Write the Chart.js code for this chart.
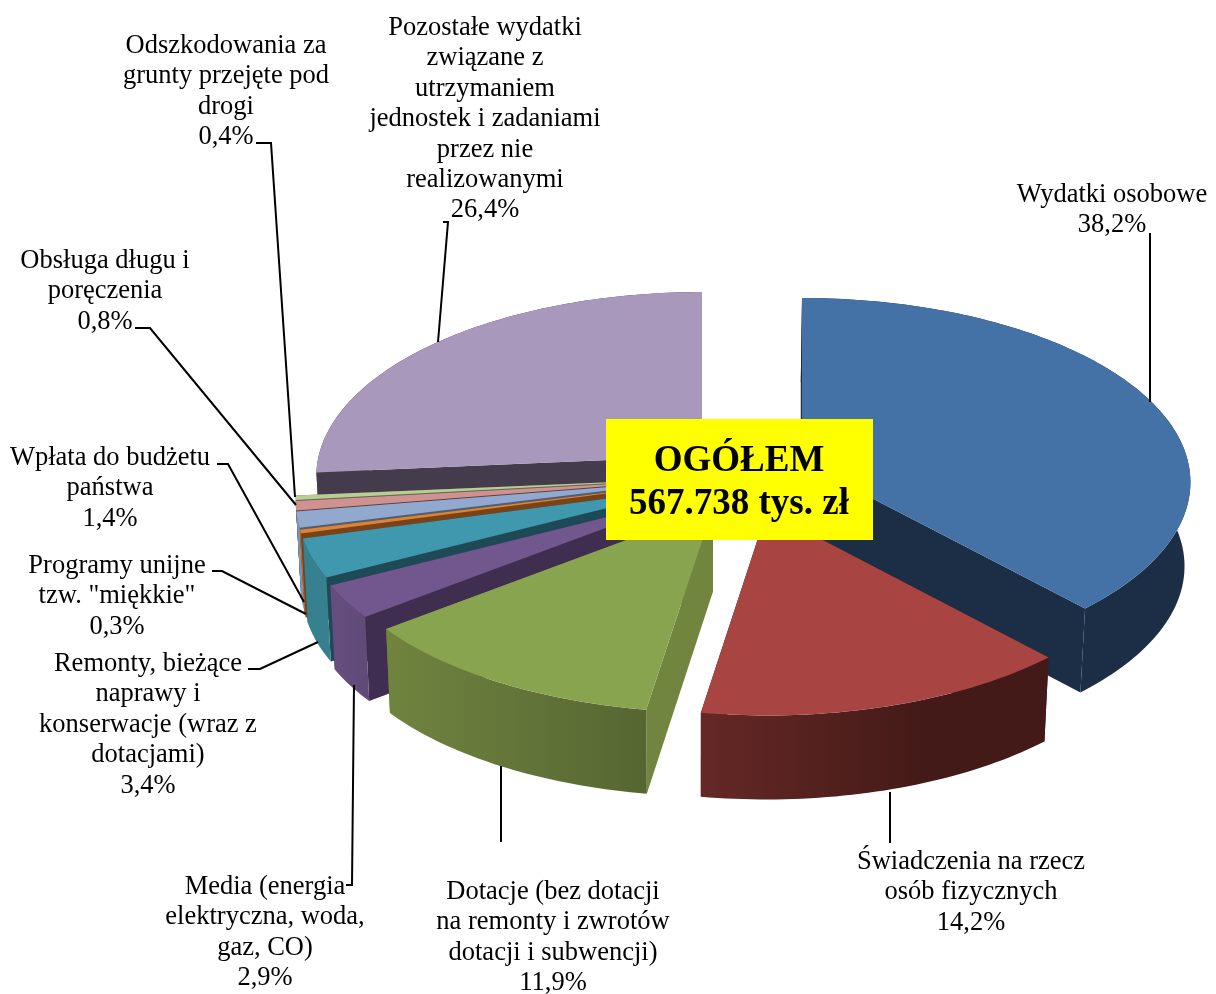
<!DOCTYPE html>
<html lang="pl"><head><meta charset="utf-8">
<style>html,body{margin:0;padding:0;background:#fff}canvas{display:block}</style>
<script src="https://cdn.jsdelivr.net/npm/chart.js@4"></script></head>
<body><canvas id="c" width="1216" height="994"></canvas>
<script>
const categories = [
 ["Wydatki osobowe"],
 ["Świadczenia na rzecz","osób fizycznych"],
 ["Dotacje (bez dotacji","na remonty i zwrotów","dotacji i subwencji)"],
 ["Media (energia","elektryczna, woda,","gaz, CO)"],
 ["Remonty, bieżące","naprawy i","konserwacje (wraz z","dotacjami)"],
 ["Programy unijne","tzw. \"miękkie\""],
 ["Wpłata do budżetu","państwa"],
 ["Obsługa długu i","poręczenia"],
 ["Odszkodowania za","grunty przejęte pod","drogi"],
 ["Pozostałe wydatki","związane z","utrzymaniem","jednostek i zadaniami","przez nie","realizowanymi"]
];
const values = [38.2,14.2,11.9,2.9,3.4,0.3,1.4,0.8,0.4,26.4];
const topColors  = ["#4472A7","#A84543","#89A44F","#71578E","#4098AF","#DB8438","#92A9CF","#CF9291","#B9CD96","#A899BC"];
const sideColors = ["#1B2E46","#431A17","#72853F","#402E50","#1E4A57","#7A4317","#505E73","#5A3F3F","#606B4D","#443C4D"];
const rimFrom    = ["#1B2E46","#652826","#70843F","#664F80","#37808F","#B56C2D","#7F93B5","#A87776","#95A679","#443C4D"];
const rimTo      = ["#1B2E46","#431A17","#566632","#5F4A78","#37808F","#B56C2D","#7F93B5","#A87776","#95A679","#443C4D"];
const shiftX = [194,159,105,84,80,78,78,78,78,94];
const shiftY = [-35,14,11,-1,-9,-14,-16,-17,-18,-41];
const radiusScale = [0.995,0.99,1,1,1,1,1,1,1,0.988];
const paintOrder = [9,0,8,7,6,5,4,3,2,1];
const labelX = [1112,971,553,265,148,117,110,105,226,485];
const labelY = [202,869,899,894,671,573,465,268,53,35];
const leaders = [
 [[1150,233],[1150,402]],
 [[890,792],[890,843]],
 [[501,766],[501,842]],
 [[354,685],[352,885],[346,885]],
 [[318,642],[260,669],[248,669]],
 [[212,571],[222,571],[306,614]],
 [[217,464],[228,464],[304,602]],
 [[135,328],[150,328],[296,505]],
 [[256,143],[271,143],[295,497]],
 [[443,222],[448,222],[438,342]]
];
const totalLines = ["OGÓŁEM","567.738 tys. zł"];
const percent = v => v.toFixed(1).replace(".",",")+"%";

const squash=0.469, persp=0.11, depth=84, vanishX=700, shrink=0.988;
const serif='"Liberation Serif","Times New Roman",serif';

function rimPoint(arc,i,a){
  const q=Math.sin(a), w=1-persp*q, R=arc.outerRadius*radiusScale[i];
  return [arc.x+shiftX[i]+R*Math.cos(a)/w, arc.y+shiftY[i]+arc.outerRadius*squash*q/w];
}
const down=p=>[vanishX+(p[0]-vanishX)*shrink,p[1]+depth];
function poly(ctx,pts,fill){
  ctx.beginPath();pts.forEach((p,k)=>k?ctx.lineTo(p[0],p[1]):ctx.moveTo(p[0],p[1]));
  ctx.closePath();ctx.fillStyle=fill;ctx.fill();
}
const pie3d={id:'pie3d',
 beforeDatasetsDraw(chart){
  const ctx=chart.ctx, arcs=chart.getDatasetMeta(0).data;
  ctx.save();
  paintOrder.forEach(i=>{
    const arc=arcs[i], rim=[], n=Math.max(6,Math.ceil((arc.endAngle-arc.startAngle)/0.02));
    for(let k=0;k<=n;k++) rim.push(rimPoint(arc,i,arc.startAngle+(arc.endAngle-arc.startAngle)*k/n));
    const apex=[arc.x+shiftX[i],arc.y+shiftY[i]];
    const first=rim[0], last=rim[n];
    poly(ctx,[apex,first,down(first),down(apex)],sideColors[i]);
    poly(ctx,[apex,last,down(last),down(apex)],sideColors[i]);
    const xs=rim.map(p=>p[0]), g=ctx.createLinearGradient(Math.min(...xs),0,Math.max(...xs),0);
    g.addColorStop(0,rimFrom[i]);g.addColorStop(i===1?0.65:1,rimTo[i]);if(i===1)g.addColorStop(1,rimTo[i]);
    poly(ctx,rim.concat(rim.slice().reverse().map(down)),g);
    poly(ctx,[apex].concat(rim),arc.options.backgroundColor);
  });
  ctx.restore();
  return false;
 },
 afterDraw(chart){
  const ctx=chart.ctx;
  ctx.save();
  ctx.strokeStyle='#000';ctx.lineWidth=2;ctx.lineJoin='miter';
  leaders.forEach(l=>{ctx.beginPath();l.forEach((p,k)=>k?ctx.lineTo(p[0],p[1]):ctx.moveTo(p[0],p[1]));ctx.stroke();});
  ctx.fillStyle='#000';ctx.textAlign='center';ctx.textBaseline='alphabetic';
  ctx.font='26.5px '+serif;
  categories.forEach((lines,i)=>{
    lines.concat([percent(values[i])]).forEach((t,k)=>ctx.fillText(t,labelX[i],labelY[i]+k*30.4));
  });
  ctx.fillStyle='#FFFF00';ctx.fillRect(606,419,267,121);
  ctx.fillStyle='#000';ctx.font='bold 37px '+serif;
  ctx.fillText(totalLines[0],739,471);ctx.fillText(totalLines[1],739,514);
  ctx.restore();
 }
};
new Chart(document.getElementById('c'),{
 type:'pie',
 data:{labels:categories.map(l=>l.join(" ")),datasets:[{data:values,backgroundColor:topColors,borderWidth:0,hoverOffset:0}]},
 options:{responsive:false,animation:false,events:[],
  layout:{padding:{left:220,right:220,top:109,bottom:109}},
  plugins:{legend:{display:false},tooltip:{enabled:false},title:{display:false}}},
 plugins:[pie3d]
});
</script></body></html>
